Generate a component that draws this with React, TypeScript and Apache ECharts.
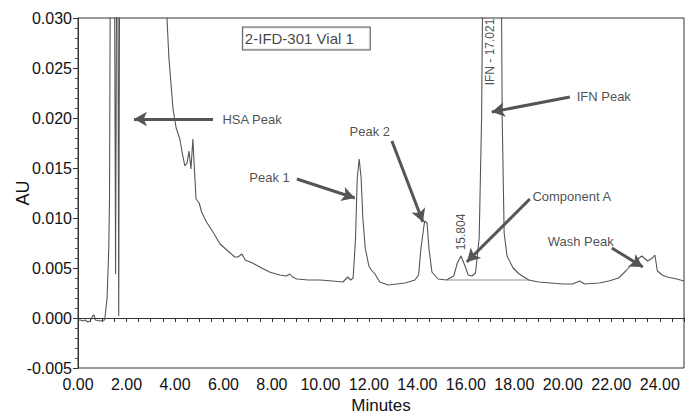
import React, { useEffect, useRef } from "react";
import * as echarts from "echarts";

// Chromatogram trace (minutes, AU)
const traceMinutes = [
  0.0, 0.1, 0.2, 0.3, 0.4, 0.5, 0.6, 0.66, 0.72, 0.9, 1.1, 1.2, 1.27, 1.3, 1.34, 1.5, 1.55, 1.6, 1.64, 1.68, 1.72,
  3.62, 3.67, 3.75, 3.85, 3.92, 4.05, 4.2, 4.3, 4.41, 4.5, 4.58, 4.66, 4.74, 4.8, 4.87, 5.0, 5.1, 5.3, 5.57, 5.86,
  6.14, 6.47, 6.6, 6.76, 6.9, 7.2, 7.5, 7.9, 8.33, 8.6, 8.74, 8.85, 9.03, 9.5, 9.98, 10.5, 10.93, 11.13, 11.25,
  11.35, 11.45, 11.52, 11.6, 11.68, 11.75, 11.85, 12.0, 12.1, 12.25, 12.45, 12.8, 13.5, 13.9, 14.05, 14.15, 14.3,
  14.4, 14.48, 14.6, 14.85, 15.2, 15.5, 15.65, 15.8, 15.95, 16.1, 16.25, 16.4, 16.55, 16.65, 16.72, 17.45, 17.5,
  17.58, 17.7, 17.95, 18.2, 18.6, 19.0, 19.5, 20.0, 20.4, 20.7, 20.9, 21.5, 21.9, 22.3, 22.6, 22.85, 23.05, 23.26,
  23.5, 23.7, 23.8, 23.9, 24.1, 24.3, 24.7, 25.0,
];
const traceAU = [
  -0.0002, -0.0002, -0.0003, -0.0002, -0.0004, -0.0003, 0.0002, 0.0003, -0.0002, -0.0003, -0.0002, 0.002, 0.007,
  0.012, 0.04, 0.04, 0.0044, 0.04, 0.04, 0.0002, 0.04,
  0.04, 0.03, 0.026, 0.023, 0.0209, 0.019, 0.0179, 0.0165, 0.0152, 0.0155, 0.0167, 0.0149, 0.0179, 0.015, 0.0119,
  0.0115, 0.0106, 0.0096, 0.0086, 0.0074,
  0.0068, 0.0061, 0.0061, 0.0064, 0.0058, 0.0055, 0.0051, 0.0046, 0.0043, 0.0042, 0.0044, 0.0041, 0.0039, 0.0038,
  0.0038, 0.0037, 0.0036, 0.0041, 0.0038,
  0.004, 0.008, 0.014, 0.0159, 0.014, 0.01, 0.007, 0.0052, 0.0048, 0.0044, 0.0036, 0.0033, 0.0035, 0.0038, 0.0043,
  0.007, 0.0097,
  0.0095, 0.0069, 0.0046, 0.0039, 0.0038, 0.0042, 0.0055, 0.0062, 0.0053, 0.0043, 0.0042, 0.0045, 0.008, 0.02, 0.04,
  0.04, 0.02,
  0.0085, 0.0062, 0.005, 0.0044, 0.0038, 0.0036, 0.0035, 0.0034, 0.0034, 0.0037, 0.0034, 0.0035, 0.0037, 0.004,
  0.0047, 0.0054, 0.0058, 0.0062,
  0.0057, 0.006, 0.0063, 0.0047, 0.0043, 0.0041, 0.0039, 0.0037,
];

// Integration baseline under the 15.804 / IFN peaks
const baselineMinutes = [15.2, 18.64];
const baselineAU = [0.0038, 0.0038];

// Text annotations (centre in data coordinates)
const noteTexts = ["HSA Peak", "Peak 1", "Peak 2", "Component A", "IFN Peak", "Wash Peak"];
const noteMinutes = [7.18, 7.9, 12.04, 20.37, 21.69, 20.74];
const noteAU = [0.0199, 0.0141, 0.0187, 0.0122, 0.0222, 0.0077];

// Rotated retention time labels
const rtTexts = ["15.804", "IFN - 17.021"];
const rtMinutes = [15.79, 16.99];
const rtAU = [0.0086, 0.0266];

// Sample title box
const titleText = "2-IFD-301 Vial 1";
const titleMinutes = 9.42;
const titleAU = 0.02795;

// Arrows: from -> to (minutes, AU)
const arrowFromMinutes = [5.57, 9.03, 12.95, 18.64, 20.29, 22.02];
const arrowFromAU = [0.0199, 0.0139, 0.0177, 0.0119, 0.0221, 0.007];
const arrowToMinutes = [2.31, 11.42, 14.23, 16.04, 17.07, 23.3];
const arrowToAU = [0.0199, 0.012, 0.0096, 0.0056, 0.0206, 0.0051];

const FONT = "'Liberation Sans', Arial, sans-serif";

export default function App() {
  const ref = useRef<HTMLDivElement>(null);
  useEffect(() => {
    if (!ref.current) return;
    const chart = echarts.init(ref.current, null, { renderer: "svg" });
    const trace = traceMinutes.map((t, i) => [t, traceAU[i]]);
    const baseline = baselineMinutes.map((t, i) => [t, baselineAU[i]]);
    const arrows = arrowFromMinutes.map((t, i) => [
      { coord: [t, arrowFromAU[i]], symbol: "none" },
      { coord: [arrowToMinutes[i], arrowToAU[i]], symbol: "arrow" },
    ]);
    const notes = noteTexts.map((txt, i) => ({
      value: [noteMinutes[i], noteAU[i]],
      label: { formatter: txt },
    }));
    const rts = rtTexts.map((txt, i) => ({
      value: [rtMinutes[i], rtAU[i]],
      label: { formatter: txt, rotate: 90 },
    }));
    chart.setOption({
      animation: false,
      textStyle: { fontFamily: FONT },
      grid: {
        left: 78,
        right: 2,
        top: 18,
        bottom: 48,
        show: true,
        borderColor: "#333",
        borderWidth: 1,
        containLabel: false,
        outerBoundsMode: "none",
      },
      xAxis: {
        type: "value",
        min: 0,
        max: 25,
        interval: 0.5,
        name: "Minutes",
        nameLocation: "middle",
        nameGap: 29,
        nameMoveOverlap: false,
        nameTextStyle: { fontSize: 17, color: "#111", fontFamily: FONT },
        axisLine: { lineStyle: { color: "#333", width: 1 } },
        axisTick: { length: 4, lineStyle: { color: "#333" } },
        axisLabel: {
          fontSize: 16,
          color: "#111",
          margin: 8,
          fontFamily: FONT,
          formatter: (v: number) => (Math.abs(v / 2 - Math.round(v / 2)) < 1e-6 && v < 24.5 ? v.toFixed(2) : ""),
        },
        splitLine: { show: false },
      },
      yAxis: {
        type: "value",
        min: -0.005,
        max: 0.03,
        interval: 0.005,
        name: "AU",
        nameLocation: "middle",
        nameGap: 46,
        nameMoveOverlap: false,
        nameTextStyle: { fontSize: 18, color: "#111", fontFamily: FONT },
        axisLine: { show: true, lineStyle: { color: "#333", width: 1 } },
        axisTick: { show: true, length: 5, lineStyle: { color: "#333" } },
        minorTick: { show: true, splitNumber: 5, length: 3, lineStyle: { color: "#555" } },
        axisLabel: {
          fontSize: 16,
          color: "#111",
          margin: 6,
          fontFamily: FONT,
          formatter: (v: number) => v.toFixed(3),
        },
        splitLine: { show: false },
      },
      series: [
        {
          type: "line",
          data: trace,
          symbol: "none",
          clip: true,
          lineStyle: { color: "#555", width: 1.1 },
          markLine: {
            silent: true,
            symbolSize: [11, 13],
            lineStyle: { color: "#555", width: 3, type: "solid" },
            label: { show: false },
            data: arrows,
          },
        },
        {
          type: "line",
          data: baseline,
          symbol: "none",
          lineStyle: { color: "#777", width: 0.8 },
        },
        {
          type: "scatter",
          data: notes,
          symbolSize: 0,
          silent: true,
          label: {
            show: true,
            position: "inside",
            fontSize: 13,
            color: "#222",
            fontFamily: FONT,
          },
        },
        {
          type: "scatter",
          data: rts,
          symbolSize: 0,
          silent: true,
          label: {
            show: true,
            position: "inside",
            fontSize: 12,
            color: "#222",
            fontFamily: FONT,
          },
        },
        {
          type: "scatter",
          data: [{ value: [titleMinutes, titleAU], label: { formatter: titleText } }],
          symbolSize: 0,
          silent: true,
          label: {
            show: true,
            position: "inside",
            fontSize: 15,
            color: "#111",
            fontFamily: FONT,
            borderColor: "#333",
            borderWidth: 1,
            backgroundColor: "#fff",
            padding: [4, 16, 3, 2],
          },
        },
      ],
    });
    return () => chart.dispose();
  }, []);
  return <div ref={ref} style={{ width: 686, height: 416, position: "absolute", left: 0, top: 0 }} />;
}
